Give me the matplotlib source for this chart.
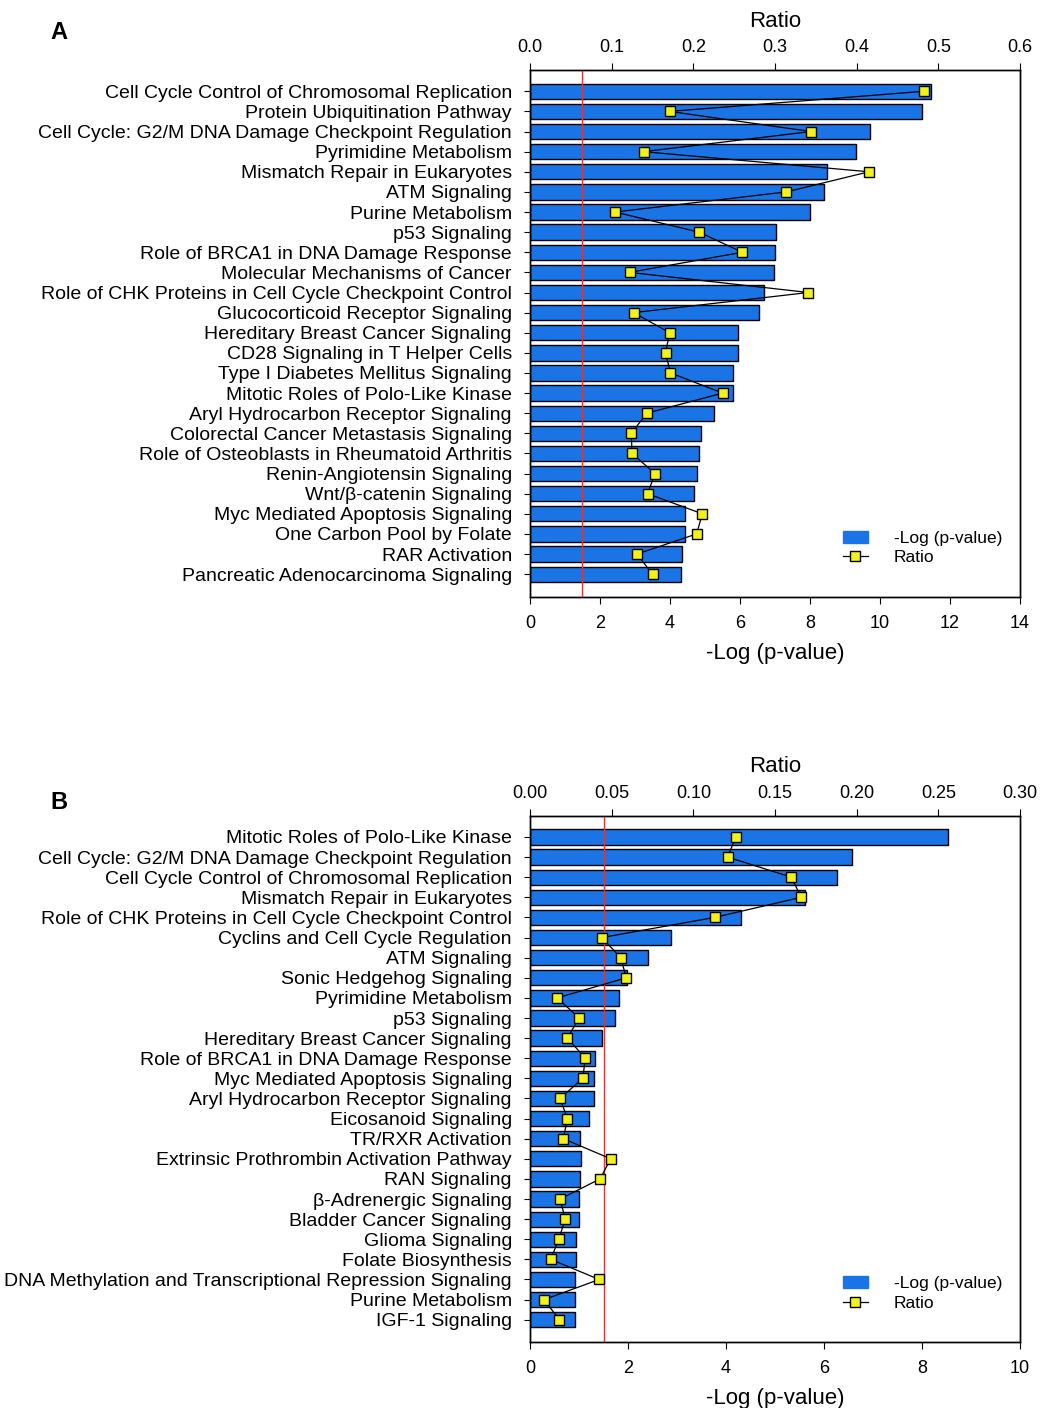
import matplotlib
matplotlib.use("Agg")
import matplotlib.pyplot as plt
from matplotlib.lines import Line2D
from matplotlib.patches import Patch

plt.rcParams['font.family'] = ['Liberation Sans', 'DejaVu Sans']

# Panel A pathways
paths_a = [
    "Cell Cycle Control of Chromosomal Replication",
    "Protein Ubiquitination Pathway",
    "Cell Cycle: G2/M DNA Damage Checkpoint Regulation",
    "Pyrimidine Metabolism",
    "Mismatch Repair in Eukaryotes",
    "ATM Signaling",
    "Purine Metabolism",
    "p53 Signaling",
    "Role of BRCA1 in DNA Damage Response",
    "Molecular Mechanisms of Cancer",
    "Role of CHK Proteins in Cell Cycle Checkpoint Control",
    "Glucocorticoid Receptor Signaling",
    "Hereditary Breast Cancer Signaling",
    "CD28 Signaling in T Helper Cells",
    "Type I Diabetes Mellitus Signaling",
    "Mitotic Roles of Polo-Like Kinase",
    "Aryl Hydrocarbon Receptor Signaling",
    "Colorectal Cancer Metastasis Signaling",
    "Role of Osteoblasts in Rheumatoid Arthritis",
    "Renin-Angiotensin Signaling",
    "Wnt/\u03b2-catenin Signaling",
    "Myc Mediated Apoptosis Signaling",
    "One Carbon Pool by Folate",
    "RAR Activation",
    "Pancreatic Adenocarcinoma Signaling",
]
logp_a = [11.45, 11.2, 9.71, 9.3, 8.48, 8.4, 8.0, 7.03, 7.01, 6.97, 6.69, 6.53,
          5.94, 5.94, 5.81, 5.79, 5.26, 4.89, 4.82, 4.78, 4.69, 4.44, 4.44, 4.34, 4.32]
ratio_a = [0.482, 0.171, 0.344, 0.139, 0.415, 0.314, 0.104, 0.207, 0.260, 0.122,
           0.341, 0.127, 0.171, 0.166, 0.172, 0.236, 0.143, 0.124, 0.125, 0.153,
           0.144, 0.211, 0.204, 0.131, 0.150]

# Panel B pathways
paths_b = [
    "Mitotic Roles of Polo-Like Kinase",
    "Cell Cycle: G2/M DNA Damage Checkpoint Regulation",
    "Cell Cycle Control of Chromosomal Replication",
    "Mismatch Repair in Eukaryotes",
    "Role of CHK Proteins in Cell Cycle Checkpoint Control",
    "Cyclins and Cell Cycle Regulation",
    "ATM Signaling",
    "Sonic Hedgehog Signaling",
    "Pyrimidine Metabolism",
    "p53 Signaling",
    "Hereditary Breast Cancer Signaling",
    "Role of BRCA1 in DNA Damage Response",
    "Myc Mediated Apoptosis Signaling",
    "Aryl Hydrocarbon Receptor Signaling",
    "Eicosanoid Signaling",
    "TR/RXR Activation",
    "Extrinsic Prothrombin Activation Pathway",
    "RAN Signaling",
    "\u03b2-Adrenergic Signaling",
    "Bladder Cancer Signaling",
    "Glioma Signaling",
    "Folate Biosynthesis",
    "DNA Methylation and Transcriptional Repression Signaling",
    "Purine Metabolism",
    "IGF-1 Signaling",
]
logp_b = [8.54, 6.57, 6.26, 5.62, 4.31, 2.88, 2.41, 1.98, 1.81, 1.73, 1.47, 1.33,
          1.31, 1.31, 1.21, 1.03, 1.05, 1.03, 1.01, 0.99, 0.94, 0.94, 0.92, 0.92, 0.91]
ratio_b = [0.126, 0.121, 0.160, 0.166, 0.113, 0.044, 0.0555, 0.059, 0.0167, 0.030,
           0.0229, 0.0339, 0.0323, 0.0184, 0.0229, 0.0204, 0.0494, 0.0429, 0.0184,
           0.0216, 0.0176, 0.0127, 0.0424, 0.0086, 0.0180]

threshold = 1.5
bar_color = '#1a74e6'
mark_color = '#f2f21a'


def draw_panel(fig, rect, names, logp, ratio, xmax, xticks, rmax, rticks, rfmt,
               letter, letter_y):
    ax = fig.add_axes(rect)
    pos = list(range(len(names)))
    ax.barh(pos, logp, height=0.76, color=bar_color, edgecolor='black', linewidth=1.0, zorder=2)
    ax.axvline(threshold, color='#e03535', linewidth=1.0, zorder=3)
    ax.set_xlim(0, xmax)
    ax.set_ylim(len(names) - 1 + 1.12, -1.06)
    ax.set_yticks(pos)
    ax.set_yticklabels(names, fontsize=14)
    ax.set_xticks(xticks)
    ax.set_xticklabels([str(t) for t in xticks], fontsize=13)
    ax.set_xlabel('-Log (p-value)', fontsize=16, labelpad=8)
    ax.tick_params(axis='y', length=4, pad=9)
    ax.tick_params(axis='x', length=5, pad=8)

    top = ax.twiny()
    top.plot(ratio, pos, color='black', linewidth=0.9, marker='s', markersize=7.5,
             markerfacecolor=mark_color, markeredgecolor='black', markeredgewidth=1.0, zorder=5)
    top.set_xlim(0, rmax)
    top.set_xticks(rticks)
    top.set_xticklabels([rfmt.format(t) for t in rticks], fontsize=13)
    top.set_xlabel('Ratio', fontsize=16, labelpad=9)
    top.tick_params(axis='x', length=5, pad=5)

    for a in (ax, top):
        for s in a.spines.values():
            s.set_linewidth(1.0)

    handles = [
        Patch(facecolor=bar_color, edgecolor=bar_color),
        Line2D([], [], color='black', linewidth=0.9, marker='s', markersize=7.5,
               markerfacecolor=mark_color, markeredgecolor='black'),
    ]
    top.legend(handles, ['-Log (p-value)', 'Ratio'], loc='lower right', frameon=False,
               fontsize=12.5, bbox_to_anchor=(0.995, 0.03), handlelength=1.4,
               handletextpad=1.5, labelspacing=0.25)

    fig.text(0.056, letter_y, letter, fontsize=17, fontweight='bold',
             ha='center', va='center')
    return ax


fig = plt.figure(figsize=(10.52, 14.08), dpi=100)

draw_panel(fig, [0.5038, 0.5762, 0.4658, 0.3741], paths_a, logp_a, ratio_a,
           14, [0, 2, 4, 6, 8, 10, 12, 14], 0.6, [0.0, 0.1, 0.2, 0.3, 0.4, 0.5, 0.6],
           '{:.1f}', 'A', 0.977)
draw_panel(fig, [0.5038, 0.0467, 0.4658, 0.3740], paths_b, logp_b, ratio_b,
           10, [0, 2, 4, 6, 8, 10], 0.30, [0.00, 0.05, 0.10, 0.15, 0.20, 0.25, 0.30],
           '{:.2f}', 'B', 0.430)

fig.savefig('out.png', dpi=100)
